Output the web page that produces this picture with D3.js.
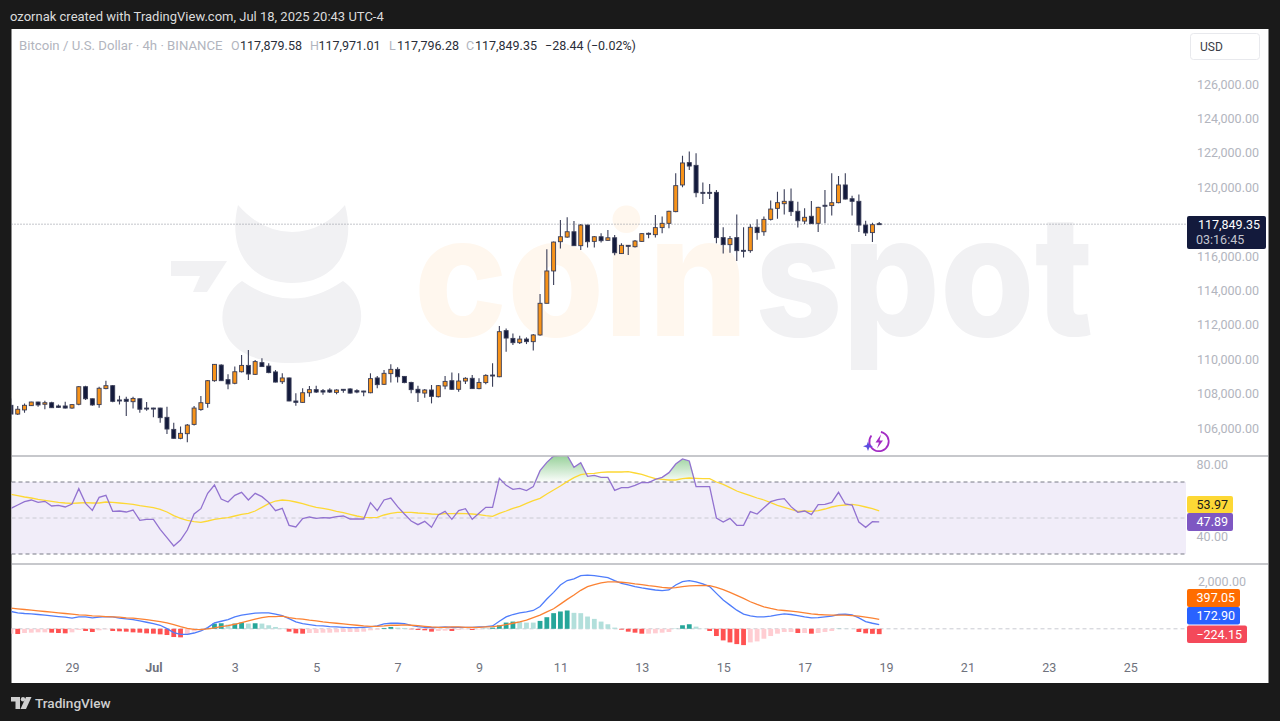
<!DOCTYPE html>
<html>
<head>
<meta charset="utf-8">
<title>BTCUSD 4h</title>
<script src="https://cdnjs.cloudflare.com/ajax/libs/d3/7.9.0/d3.min.js"></script>
<style>
  html, body { margin: 0; padding: 0; background: #1a1a1a; overflow: hidden; }
  svg { display: block; }
  text { font-family: Roboto, sans-serif; }
</style>
</head>
<body>
<svg id="chart" width="1280" height="721"></svg>
<script>
// prices are in thousands of USD, one bar every 4h starting Jun 27 12:00
const opens = [107.32,106.81,107.05,107.30,107.51,107.38,107.47,107.28,107.28,107.16,107.38,108.40,107.70,107.36,108.29,108.46,107.63,107.67,107.53,107.70,107.16,107.16,107.16,106.62,105.92,105.40,105.67,106.21,107.07,107.43,108.75,109.66,108.81,108.60,109.27,109.64,109.12,109.80,109.60,109.26,108.69,108.91,107.57,107.49,108.05,108.23,108.17,108.21,108.07,108.25,108.27,108.17,108.15,108.05,108.91,108.54,109.16,109.41,109.00,108.65,108.25,108.03,108.21,107.82,108.44,108.75,108.25,108.73,108.89,108.29,108.64,109.08,108.98,111.66,111.21,110.96,111.17,111.02,111.41,113.25,115.13,116.83,117.10,117.41,116.60,117.80,116.85,117.12,116.91,117.06,116.14,116.62,116.54,116.85,117.32,117.24,117.65,117.90,118.58,120.13,121.43,121.27,119.70,119.70,119.70,117.07,116.66,117.07,116.33,116.31,117.67,117.41,118.13,118.77,119.04,119.18,118.60,118.03,118.31,117.90,118.95,118.93,119.10,120.13,119.33,119.18,117.80,117.36,117.88];
const highs = [107.72,107.28,107.43,107.53,107.53,107.59,107.53,107.36,107.53,107.40,108.44,108.46,107.72,108.40,108.75,108.50,107.88,107.82,107.82,107.72,107.51,107.18,107.18,107.24,106.31,106.08,106.23,107.28,107.86,108.79,109.72,109.70,109.12,109.57,110.24,110.53,109.95,110.05,109.76,109.37,109.18,108.93,108.02,108.31,108.44,108.46,108.27,108.31,108.25,108.27,108.31,108.25,108.17,109.18,109.02,109.37,109.70,109.53,109.02,108.69,108.46,108.27,108.50,108.50,109.02,109.22,109.18,108.95,109.08,108.89,109.12,109.76,111.93,111.79,111.50,111.37,111.27,111.46,113.79,116.39,116.85,118.09,118.25,118.03,117.86,117.82,117.16,117.32,117.51,117.22,116.74,116.64,116.93,117.32,117.36,118.38,118.29,118.63,120.81,121.83,122.08,121.97,120.28,120.19,119.84,117.67,117.16,118.42,117.67,117.84,118.13,118.29,119.22,119.74,119.88,119.93,119.16,118.77,119.20,118.87,119.84,120.81,120.65,120.81,119.51,119.58,118.05,117.94,117.97];
const lows = [106.50,106.76,106.89,107.28,107.24,107.09,107.16,107.16,107.14,107.12,107.32,107.63,107.30,107.18,108.25,107.49,107.36,106.70,107.14,106.89,107.01,106.62,106.31,105.65,105.38,105.34,105.17,106.15,107.01,107.18,108.69,108.73,108.25,108.54,109.22,108.79,109.08,109.55,109.18,108.65,108.56,107.55,107.30,107.47,107.82,108.03,107.94,108.03,107.96,108.05,108.00,108.02,107.84,108.02,108.31,108.50,108.65,108.65,108.60,108.02,107.51,107.76,107.43,107.78,108.25,108.21,108.11,108.56,108.27,108.25,108.54,108.40,108.95,110.44,110.83,110.88,110.88,110.50,111.37,113.25,114.31,116.44,117.06,116.58,116.35,116.50,116.50,116.79,116.89,116.04,116.12,116.06,116.50,116.81,117.03,117.08,117.32,117.61,118.54,119.99,121.00,119.41,119.02,119.31,116.74,116.15,116.19,115.71,115.92,116.19,116.95,117.18,118.07,118.17,118.42,118.33,117.65,117.86,117.86,117.39,117.90,118.36,119.06,119.29,118.36,117.39,117.16,116.81,117.80];
const closes = [106.81,107.09,107.32,107.51,107.34,107.47,107.18,107.20,107.16,107.36,108.40,107.70,107.34,108.31,108.46,107.55,107.57,107.55,107.72,107.09,107.12,107.14,106.60,105.94,105.40,105.69,106.17,107.16,107.47,108.75,109.70,108.75,108.56,109.27,109.64,109.14,109.86,109.57,109.22,108.67,108.91,107.57,107.49,108.05,108.23,108.09,108.09,108.09,108.21,108.21,108.03,108.09,108.11,108.87,108.52,109.18,109.41,108.98,108.64,108.23,108.05,108.21,107.84,108.46,108.71,108.25,108.73,108.89,108.29,108.65,109.06,109.04,111.60,111.23,110.96,111.17,111.02,111.41,113.25,115.13,116.81,117.12,117.41,116.60,117.80,116.83,117.12,116.89,117.06,116.19,116.62,116.60,116.87,117.30,117.28,117.65,117.90,118.60,120.09,121.41,121.23,119.68,119.66,119.66,117.07,116.66,117.01,116.31,116.31,117.67,117.36,118.13,118.73,119.10,119.18,118.58,118.05,118.25,117.88,118.83,118.93,119.10,120.13,119.31,119.18,117.80,117.34,117.82,117.85];

const rsi = [55.37,57.22,59.07,60.0,58.7,59.26,56.67,57.04,56.11,57.78,66.3,58.15,54.26,61.48,62.59,53.7,53.89,53.33,54.44,48.7,49.26,49.26,43.7,39.07,34.44,37.78,43.33,52.22,55.19,63.7,68.3,60.56,58.89,62.59,64.26,60,63.7,61.85,58.7,54.07,55.37,45.93,45.0,49.63,50.56,49.81,50.18,50,50.74,51.11,49.44,49.44,49.44,58.52,54.07,60,61.11,56.3,52.22,48.33,46.3,48.15,44.81,51.67,53.7,49.26,54.07,55.19,49.26,52.59,55.93,55.93,72.04,68.15,65.93,66.48,65.19,67.41,76.3,80.93,84.45,84.82,84.82,78.15,80.74,73.15,73.7,72.59,72.59,65.37,66.85,66.85,68.15,69.82,69.63,71.48,72.59,75.19,80.0,82.78,81.67,67.41,67.41,67.41,50,47.78,49.81,45.93,45.93,53.52,52.22,55.74,59.07,60.19,60.74,56.3,53.15,53.89,51.85,57.41,57.59,58.7,64.26,57.78,57.22,47.78,44.81,47.96,47.89];
const rsiMa = [63.15,62.41,61.67,61.11,60.37,59.82,59.26,58.7,58.33,58.15,58.33,58.52,58.33,58.33,58.89,58.7,58.33,57.96,57.59,56.85,56.3,55.74,54.81,53.33,51.3,49.81,48.7,47.96,47.59,48.33,49.26,49.81,50.18,51.11,52.04,52.59,53.89,55.93,57.96,59.44,60,59.63,58.89,57.96,56.85,55.93,55.37,54.63,53.7,52.96,52.04,51.11,50.37,50.18,50.37,51.67,52.59,53.15,53.15,53.15,52.78,52.59,52.22,52.04,52.41,52.41,52.59,52.41,52.22,51.85,51.3,50.93,52.59,53.89,55.37,56.48,58.15,59.63,60.93,63.33,65.56,67.78,70.19,72.41,74.07,74.63,74.82,75.37,75.56,75.56,75.56,75.74,75,74.26,72.96,71.85,71.48,71.11,71.11,71.85,72.22,72.04,71.85,71.85,70,68.7,66.85,65,63.7,62.41,61.11,60,58.52,57.04,55.93,54.81,53.7,53.89,53.7,54.07,55,56.11,56.85,57.22,57.59,57.04,56.11,55.19,53.97];

const macd = [724,668,640,626,598,569,541,513,485,443,499,499,457,485,513,499,443,415,387,330,274,218,148,7,-162,-232,-232,-176,-91,49,246,316,387,499,569,612,654,668,668,612,555,429,288,218,176,134,120,91,77,63,49,49,63,77,120,204,232,232,218,148,91,63,49,63,77,63,63,63,63,77,91,120,316,499,598,668,710,766,935,1244,1525,1835,2018,2088,2228,2242,2228,2186,2144,2018,1905,1835,1765,1708,1666,1624,1596,1624,1835,1975,2018,1961,1877,1765,1483,1202,991,780,612,541,499,499,527,583,626,598,555,499,457,471,499,527,598,612,583,457,302,232,172.9];
const signal = [865,837,808,780,752,724,696,668,640,612,583,569,541,527,513,499,485,457,443,415,387,344,302,246,176,91,21,-21,-35,-7,35,91,134,190,260,330,401,471,513,513,527,471,429,401,359,330,288,260,232,204,176,148,120,105,105,120,148,148,162,148,134,105,77,63,63,77,77,63,63,63,77,91,120,176,232,288,359,471,569,710,837,1033,1230,1413,1610,1765,1849,1919,1961,1961,1947,1919,1877,1849,1807,1779,1736,1708,1722,1765,1793,1807,1821,1807,1736,1638,1526,1399,1272,1132,1019,921,851,794,766,738,710,668,626,598,583,569,569,569,555,527,485,443,397.05];
const hist = [-204,-218,-176,-162,-148,-148,-162,-176,-190,-148,-49,-91,-134,-63,-21,-91,-105,-120,-148,-162,-190,-204,-232,-260,-344,-358,-260,-105,-35,35,218,232,176,218,260,218,232,218,148,77,21,-120,-190,-204,-176,-176,-162,-162,-148,-134,-134,-134,-120,-63,-35,35,77,49,35,-21,-49,-63,-120,-91,-77,-91,-49,-21,-49,-21,7,49,148,260,302,302,260,260,330,485,654,724,766,668,654,513,415,302,190,49,-35,-120,-162,-204,-204,-190,-162,-134,7,148,190,91,7,-91,-302,-485,-569,-640,-682,-569,-527,-415,-302,-204,-134,-134,-176,-176,-204,-176,-134,-91,7,7,0,-134,-190,-210,-224.15];

const priceTicks = [126,124,122,120,116,114,112,110,108,106];
const rsiTicks = [80,40];
const macdTicks = [2000];
const dateTicks = ["2025-06-29","2025-07-01","2025-07-03","2025-07-05","2025-07-07","2025-07-09","2025-07-11","2025-07-13","2025-07-15","2025-07-17","2025-07-19","2025-07-21","2025-07-23","2025-07-25"];
const dateLabels = ["29","Jul","3","5","7","9","11","13","15","17","19","21","23","25"];

const BAR_MS = 4 * 3600 * 1000;
const firstBar = Date.UTC(2025, 5, 27, 12);
const barTimes = closes.map((_, i) => new Date(firstBar + i * BAR_MS));

const GREY = "#b2b5be";
const UP = "#f7931a";
const DOWN = "#131a3c";

const svg = d3.select("#chart");

// page frame
svg.append("rect").attr("width", 1280).attr("height", 721).attr("fill", "#1a1a1a");
svg.append("rect").attr("x", 11.5).attr("y", 29).attr("width", 1257).attr("height", 654).attr("fill", "#fff");

const x = d3.scaleUtc()
    .domain([new Date(Date.UTC(2025, 5, 29)), new Date(Date.UTC(2025, 6, 19))])
    .range([72, 886]);
const yPrice = d3.scaleLinear().domain([106, 126]).range([428, 84]);
const yRsi = d3.scaleLinear().domain([30, 70]).range([554, 482]);
const yMacd = d3.scaleLinear().domain([0, 2000]).range([628.8, 581]);

const defs = svg.append("defs");
function addClip(id, y0, y1) {
    defs.append("clipPath").attr("id", id).append("rect")
        .attr("x", 11.5).attr("y", y0).attr("width", 1174.5).attr("height", y1 - y0);
}
addClip("clipPrice", 29, 456);
addClip("clipRsi", 456.5, 564);
addClip("clipMacd", 564, 683);

const grad = defs.append("linearGradient").attr("id", "obGrad")
    .attr("gradientUnits", "userSpaceOnUse")
    .attr("x1", 0).attr("x2", 0).attr("y1", yRsi(84)).attr("y2", yRsi(70));
grad.append("stop").attr("offset", 0).attr("stop-color", "#4caf50").attr("stop-opacity", 0.55);
grad.append("stop").attr("offset", 1).attr("stop-color", "#4caf50").attr("stop-opacity", 0.02);

// watermark, sits behind everything
const wm = svg.append("g");
wm.append("path").attr("fill", "#f1f1f3")
    .attr("d", "M238,205 Q262,232 292,232 Q322,232 345,205 C357,250 335,283 292,283 C250,283 227,250 238,205 Z");
wm.append("path").attr("fill", "#f1f1f3")
    .attr("d", "M242,281 Q292,316 343,281 C372,300 374,363 291,363 C208,363 212,300 242,281 Z");
wm.append("path").attr("fill", "#f1f1f3")
    .attr("d", "M171,261 H227 L207,292 H193 L200,276 H171 Z");
wm.append("text").text("coin").attr("x", 414).attr("y", 336)
    .attr("font-size", 168).attr("font-weight", 800).attr("fill", "#fff7ee")
    .style("font-family", "Inter, sans-serif").attr("textLength", 334).attr("lengthAdjust", "spacingAndGlyphs");
wm.append("text").text("spot").attr("x", 755).attr("y", 336)
    .attr("font-size", 168).attr("font-weight", 800).attr("fill", "#f1f1f3")
    .style("font-family", "Inter, sans-serif").attr("textLength", 338).attr("lengthAdjust", "spacingAndGlyphs");

// last price line
svg.append("line").attr("x1", 11.5).attr("x2", 1186)
    .attr("y1", yPrice(closes[closes.length - 1])).attr("y2", yPrice(closes[closes.length - 1]))
    .attr("stroke", "#8a8d98").attr("stroke-dasharray", "1,2");

// candles
const candles = svg.append("g").attr("clip-path", "url(#clipPrice)")
    .selectAll("g").data(closes).join("g");
candles.append("line")
    .attr("x1", (d, i) => x(barTimes[i])).attr("x2", (d, i) => x(barTimes[i]))
    .attr("y1", (d, i) => yPrice(highs[i])).attr("y2", (d, i) => yPrice(lows[i]))
    .attr("stroke", "#3a3e58").attr("stroke-width", 1.1);
candles.append("rect")
    .attr("x", (d, i) => x(barTimes[i]) - 2)
    .attr("width", 4)
    .attr("y", (d, i) => yPrice(Math.max(opens[i], closes[i])))
    .attr("height", (d, i) => Math.max(Math.abs(yPrice(opens[i]) - yPrice(closes[i])), 1))
    .attr("fill", (d, i) => closes[i] >= opens[i] ? UP : DOWN)
    .attr("stroke", "#3a3e58").attr("stroke-width", 0.9);

// RSI pane
svg.append("rect").attr("x", 11.5).attr("width", 1174.5)
    .attr("y", yRsi(70)).attr("height", yRsi(30) - yRsi(70)).attr("fill", "#f1edf9");
[70, 50, 30].forEach(v => {
    svg.append("line").attr("x1", 11.5).attr("x2", 1186).attr("y1", yRsi(v)).attr("y2", yRsi(v))
        .attr("stroke", v === 50 ? "#c9cad2" : "#787b86").attr("stroke-dasharray", "4,3");
});
const rsiPane = svg.append("g").attr("clip-path", "url(#clipRsi)");
rsiPane.append("path").datum(rsi)
    .attr("fill", "url(#obGrad)")
    .attr("d", d3.area()
        .x((d, i) => x(barTimes[i]))
        .y0(yRsi(70))
        .y1(d => yRsi(Math.max(d, 70))));
const rsiLine = d3.line().x((d, i) => x(barTimes[i])).y(d => yRsi(d));
rsiPane.append("path").datum(rsiMa).attr("fill", "none").attr("stroke", "#fdd835")
    .attr("stroke-width", 1.3).attr("d", rsiLine);
rsiPane.append("path").datum(rsi).attr("fill", "none").attr("stroke", "#9272d0")
    .attr("stroke-width", 1.3).attr("d", rsiLine);

// MACD pane
svg.append("line").attr("x1", 11.5).attr("x2", 1186).attr("y1", yMacd(0)).attr("y2", yMacd(0))
    .attr("stroke", "#c9cad2").attr("stroke-dasharray", "4,3");
const macdPane = svg.append("g").attr("clip-path", "url(#clipMacd)");
function histColor(v, i) {
    const prev = i > 0 ? hist[i - 1] : v;
    if (v >= 0) return v > prev ? "#26a69a" : "#b2dfdb";
    return v < prev ? "#ff5252" : "#ffcdd2";
}
macdPane.selectAll("rect").data(hist).join("rect")
    .attr("x", (d, i) => x(barTimes[i]) - 2.4)
    .attr("width", 4.8)
    .attr("y", d => Math.min(yMacd(d), yMacd(0)))
    .attr("height", d => Math.abs(yMacd(d) - yMacd(0)))
    .attr("fill", histColor);
const macdLine = d3.line().x((d, i) => x(barTimes[i])).y(d => yMacd(d));
macdPane.append("path").datum(macd).attr("fill", "none").attr("stroke", "#4f7dfb")
    .attr("stroke-width", 1.3).attr("d", macdLine);
macdPane.append("path").datum(signal).attr("fill", "none").attr("stroke", "#fb8233")
    .attr("stroke-width", 1.3).attr("d", macdLine);

// pane separators
[456, 564].forEach(y => {
    svg.append("line").attr("x1", 11.5).attr("x2", 1268.5).attr("y1", y).attr("y2", y)
        .attr("stroke", "#8f9199").attr("stroke-width", 1.2);
});

// axes
function rightAxis(scale, ticks, fmt, xr) {
    const g = svg.append("g").attr("transform", "translate(" + xr + ",0)")
        .call(d3.axisRight(scale).tickValues(ticks).tickFormat(fmt).tickSize(0).tickPadding(0));
    g.select(".domain").remove();
    g.selectAll("text").attr("text-anchor", "end").attr("fill", GREY)
        .attr("font-size", 12.5).style("font-family", "Roboto, sans-serif");
    return g;
}
const fmt2 = d3.format(",.2f");
rightAxis(yPrice, priceTicks, d => fmt2(d * 1000), 1259);
rightAxis(yRsi, rsiTicks, d => fmt2(d), 1228);
rightAxis(yMacd, macdTicks, d => fmt2(d), 1246);

const xAxis = svg.append("g").attr("transform", "translate(0,663)")
    .call(d3.axisBottom(x).tickValues(dateTicks.map(d => new Date(d + "T00:00:00Z")))
        .tickFormat((d, i) => dateLabels[i]).tickSize(0).tickPadding(0));
xAxis.select(".domain").remove();
xAxis.selectAll("text").attr("fill", "#6f727d").attr("font-size", 12.5)
    .style("font-family", "Roboto, sans-serif")
    .attr("font-weight", (d, i) => dateLabels[i] === "Jul" ? 700 : 400);

// price tags on the scale
function tag(y0, y1, xr, bg, label, fg) {
    svg.append("rect").attr("x", 1187).attr("y", y0).attr("width", xr - 1187).attr("height", y1 - y0)
        .attr("rx", 2).attr("fill", bg);
    svg.append("text").text(label).attr("x", xr - 5).attr("y", (y0 + y1) / 2 + 4.4)
        .attr("text-anchor", "end").attr("font-size", 12.5).attr("fill", fg);
}
tag(496, 513, 1233, "#fdd835", "53.97", "#1a1a1a");
tag(513, 531, 1233, "#7e57c2", "47.89", "#fff");
tag(589, 607, 1240, "#ff6d00", "397.05", "#fff");
tag(607, 624.5, 1240, "#2962ff", "172.90", "#fff");
tag(625.5, 643, 1247, "#f4495a", "−224.15", "#fff");

svg.append("rect").attr("x", 1187).attr("y", 216).attr("width", 79).attr("height", 33)
    .attr("rx", 2).attr("fill", DOWN);
svg.append("text").text("117,849.35").attr("x", 1260).attr("y", 229)
    .attr("text-anchor", "end").attr("font-size", 12.5).attr("fill", "#fff");
svg.append("text").text("03:16:45").attr("x", 1196).attr("y", 244)
    .attr("font-size", 12.5).attr("fill", "#c4c6cf");

// USD button
svg.append("rect").attr("x", 1190.5).attr("y", 33.5).attr("width", 69).attr("height", 26)
    .attr("rx", 3).attr("fill", "#fff").attr("stroke", "#e8e9ed");
svg.append("text").text("USD").attr("x", 1200).attr("y", 50.5).attr("font-size", 12).attr("fill", "#3a3d47");

// header strip
svg.append("text").text("ozornak created with TradingView.com, Jul 18, 2025 20:43 UTC-4")
    .attr("x", 10).attr("y", 21).attr("font-size", 13).attr("fill", "#dcdcdc");

// legend row
const LEGEND_Y = 50;
function legend(label, lx, fill, size) {
    svg.append("text").text(label).attr("x", lx).attr("y", LEGEND_Y)
        .attr("font-size", size || 12.5).attr("fill", fill);
}
legend("Bitcoin / U.S. Dollar · 4h · BINANCE", 19, GREY, 13.2);
legend("O", 231, GREY); legend("117,879.58", 240, "#2a2e39");
legend("H", 310, GREY); legend("117,971.01", 318.5, "#2a2e39");
legend("L", 389, GREY); legend("117,796.28", 397, "#2a2e39");
legend("C", 466, GREY); legend("117,849.35", 475, "#2a2e39");
legend("−28.44 (−0.02%)", 545, "#2a2e39");

// lightning badge near the last bars
const badge = svg.append("g").attr("transform", "translate(879,441.5)");
badge.append("path").attr("d", d3.arc()({ innerRadius: 8.8, outerRadius: 10.6, startAngle: 0.2, endAngle: Math.PI * 2 - 0.9 }))
    .attr("fill", "#a32cc4");
badge.append("path").attr("d", "M2,-7 L-3.5,1 L0,1 L-2,7 L4,-1 L0.5,-1 Z").attr("fill", "#a32cc4");
svg.append("path").attr("d", "M868,441.5 L869.3,445 L873,446.3 L869.3,447.6 L868,451 L866.7,447.6 L863,446.3 L866.7,445 Z")
    .attr("fill", "#5b4de0");

// footer logo
const logo = svg.append("g").attr("fill", "#cfcfcf");
logo.append("path").attr("d", "M11,697 H20 V709 H15.5 V701.5 H11 Z");
logo.append("circle").attr("cx", 23).attr("cy", 699.2).attr("r", 2.2);
logo.append("path").attr("d", "M26,697 H31.5 L26,709 H20.5 Z");
svg.append("text").text("TradingView").attr("x", 35).attr("y", 708)
    .attr("font-size", 13.6).attr("font-weight", 500).attr("fill", "#cfcfcf");
</script>
</body>
</html>
